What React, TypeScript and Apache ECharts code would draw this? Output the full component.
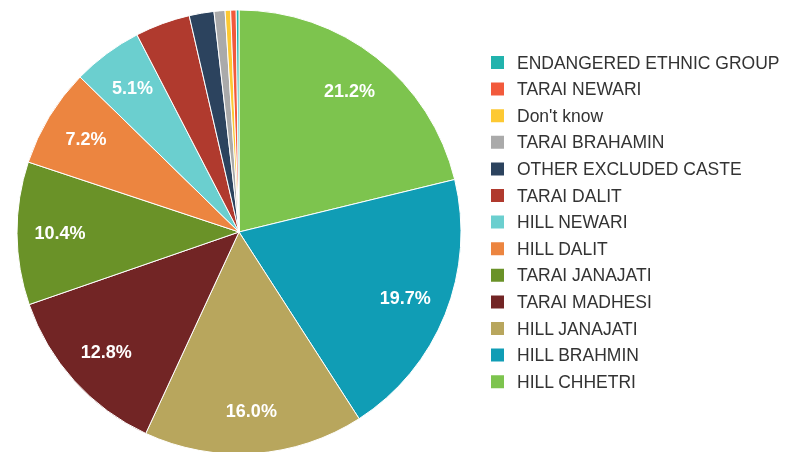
import React, { useEffect, useRef } from "react";
import * as echarts from "echarts";

const categories = [
  "HILL CHHETRI",
  "HILL BRAHMIN",
  "HILL JANAJATI",
  "TARAI MADHESI",
  "TARAI JANAJATI",
  "HILL DALIT",
  "HILL NEWARI",
  "TARAI DALIT",
  "OTHER EXCLUDED CASTE",
  "TARAI BRAHAMIN",
  "Don't know",
  "TARAI NEWARI",
  "ENDANGERED ETHNIC GROUP",
];
const values = [21.2, 19.7, 16.0, 12.8, 10.4, 7.2, 5.1, 4.0, 1.8, 0.8, 0.4, 0.4, 0.2];
const colors = [
  "#7dc44e",
  "#109db5",
  "#b8a65d",
  "#722525",
  "#6a9228",
  "#ec8540",
  "#6bcfcf",
  "#b03a2e",
  "#2c435e",
  "#aaaaaa",
  "#fdc933",
  "#f25a3c",
  "#22b3ad",
];
const labelThreshold = 5;

export default function App() {
  const ref = useRef<HTMLDivElement>(null);
  useEffect(() => {
    if (!ref.current) return;
    const chart = echarts.init(ref.current, undefined, { renderer: "svg" });
    const data = categories.map((name, i) => ({
      name,
      value: values[i],
      itemStyle: { color: colors[i] },
    }));
    const labelData = categories.map((name, i) => ({
      name,
      value: values[i],
      label: { show: values[i] >= labelThreshold },
    }));
    chart.setOption({
      animation: false,
      legend: {
        orient: "vertical",
        left: 484,
        top: 48.5,
        itemWidth: 15,
        itemHeight: 15,
        itemGap: 8.6,
        icon: "rect",
        data: categories.slice().reverse(),
        textStyle: {
          fontFamily: "Liberation Sans, Arial, sans-serif",
          fontSize: 17.5,
          color: "#333",
          lineHeight: 17,
          padding: [0, 0, 0, 7],
        },
      },
      series: [
        {
          type: "pie",
          center: [239, 232],
          radius: [0, 222],
          startAngle: 90,
          clockwise: true,
          data,
          label: { show: false },
          labelLine: { show: false },
          itemStyle: { borderColor: "#fff", borderWidth: 1 },
          emphasis: { disabled: true },
        },
        {
          type: "pie",
          center: [239, 232],
          radius: [130, 222],
          startAngle: 90,
          clockwise: true,
          silent: true,
          data: labelData,
          itemStyle: { color: "rgba(0,0,0,0)", borderWidth: 0 },
          label: {
            show: true,
            position: "inside",
            formatter: (p: any) => p.value.toFixed(1) + "%",
            color: "#fff",
            fontFamily: "Liberation Sans, Arial, sans-serif",
            fontSize: 18,
            fontWeight: "bold",
          },
          labelLine: { show: false },
          emphasis: { disabled: true },
          tooltip: { show: false },
        },
      ],
    });
    return () => chart.dispose();
  }, []);
  return (
    <div
      ref={ref}
      style={{ position: "fixed", left: 0, top: 0, width: 787, height: 452 }}
    />
  );
}
